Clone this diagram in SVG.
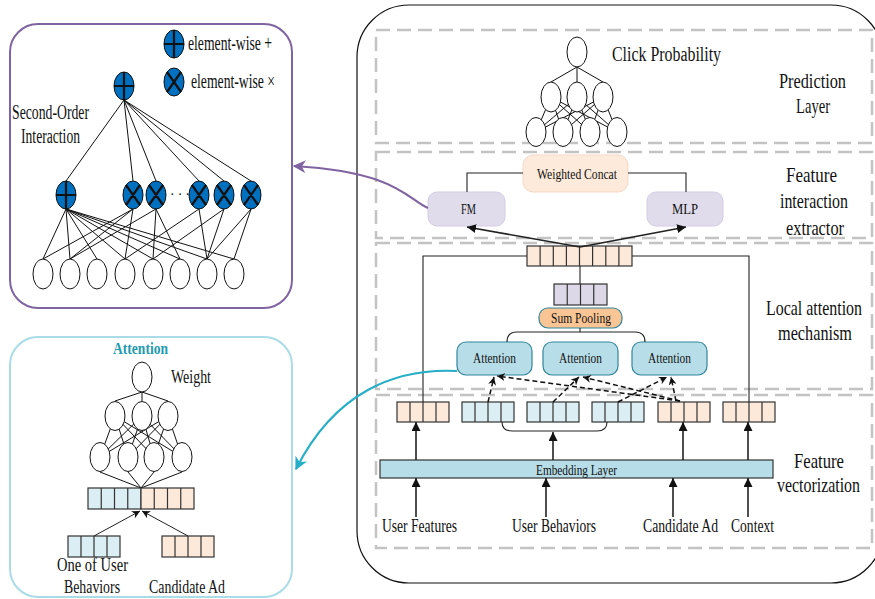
<svg xmlns="http://www.w3.org/2000/svg" width="875" height="599" viewBox="0 0 875 599">
<style>
text{font-family:"Liberation Serif","Times New Roman",serif;fill:#111}
.lbl{font-size:21px}
.sm{font-size:15px}
.net{stroke:#111;stroke-width:1;fill:none}
.wn{fill:#fff;stroke:#111;stroke-width:1}
.bn{fill:#0070C0;stroke:#111;stroke-width:1}
.sym{stroke:#111;stroke-width:2.2;fill:none}
.sec{fill:none;stroke:#C3C3C3;stroke-width:2.5;stroke-dasharray:14 7}
.cell{stroke:#333;stroke-width:1.2}
.pe{fill:#FDE9D9}
.bl{fill:#DAEEF3}
.lv{fill:#DDD8E8}
.div{stroke:#333;stroke-width:1.2;fill:none}
.ar{stroke:#222;stroke-width:1.6;fill:none;marker-end:url(#ah)}
.art{stroke:#222;stroke-width:1;fill:none;marker-end:url(#ahs)}
.da{stroke:#111;stroke-width:1.5;fill:none;stroke-dasharray:5 3;marker-end:url(#ahs)}
.att{fill:#B7DEE8;stroke:#31859C;stroke-width:1.2}
.ln{stroke:#222;stroke-width:1.1;fill:none}
</style>
<defs>
<marker id="ah" viewBox="0 0 10 10" refX="10" refY="5" markerWidth="9" markerHeight="9" markerUnits="userSpaceOnUse" orient="auto"><path d="M0,0 L10,5 L0,10 z" fill="#111"/></marker>
<marker id="ahs" viewBox="0 0 10 10" refX="10" refY="5" markerWidth="8" markerHeight="8" markerUnits="userSpaceOnUse" orient="auto"><path d="M0,0 L10,5 L0,10 L3,5 z" fill="#111"/></marker>
<marker id="ahp" viewBox="0 0 10 10" refX="9" refY="5" markerWidth="13" markerHeight="13" markerUnits="userSpaceOnUse" orient="auto"><path d="M0,0 L10,5 L0,10 L3,5 z" fill="#8064A2"/></marker>
<marker id="aht" viewBox="0 0 10 10" refX="9" refY="5" markerWidth="13" markerHeight="13" markerUnits="userSpaceOnUse" orient="auto"><path d="M0,0 L10,5 L0,10 L3,5 z" fill="#25AEC6"/></marker>
</defs>

<!-- Panels -->
<g id="fm-panel">
<rect x="10" y="24" width="282" height="284" rx="28" fill="#fff" stroke="#8064A2" stroke-width="2"/>
</g>
<g id="attention-panel">
<rect x="10" y="337" width="282" height="260" rx="28" fill="#fff" stroke="#A9DCE7" stroke-width="2"/>
</g>
<g id="main-panel">
<rect x="357" y="5" width="526" height="578" rx="52" fill="#fff" stroke="#111" stroke-width="1.2"/>
</g>

<!-- Section boxes -->
<g id="sections">
<rect class="sec" x="376" y="30" width="496" height="113"/>
<rect class="sec" x="376" y="152" width="496" height="86"/>
<rect class="sec" x="376" y="243" width="496" height="146"/>
<rect class="sec" x="376" y="395" width="496" height="153"/>
</g>

<!-- FM detail network -->
<g id="fm-network">
<g class="net">
<path d="M124,100L66,181M124,100L133,181M124,100L156,181M124,100L199,181M124,100L224,181M124,100L251,181"/>
<path d="M66,209L43,259M66,209L70,259M66,209L97,259M66,209L125,259M66,209L153,259M66,209L180,259M66,209L207,259M66,209L234,259"/>
<path d="M133,209L43,259M133,209L70,259M133,209L125,259"/>
<path d="M156,209L70,259M156,209L153,259M156,209L180,259"/>
<path d="M199,209L125,259M199,209L207,259"/>
<path d="M224,209L153,259M224,209L207,259"/>
<path d="M251,209L207,259M251,209L234,259"/>
</g>
<g id="fm-top">
<ellipse class="bn" cx="124" cy="86" rx="10" ry="14"/>
<path class="sym" d="M124,72V100M114,86H134"/>
</g>
<g id="fm-sum">
<ellipse class="bn" cx="66" cy="195" rx="10" ry="14"/>
<path class="sym" d="M66,181V209M56,195H76"/>
</g>
<g id="fm-products">
<ellipse class="bn" cx="133" cy="195" rx="10" ry="14"/>
<ellipse class="bn" cx="156" cy="195" rx="10" ry="14"/>
<ellipse class="bn" cx="199" cy="195" rx="10" ry="14"/>
<ellipse class="bn" cx="224" cy="195" rx="10" ry="14"/>
<ellipse class="bn" cx="251" cy="195" rx="10" ry="14"/>
<path class="sym" d="M126,185L140,205M140,185L126,205M149,185L163,205M163,185L149,205M192,185L206,205M206,185L192,205M217,185L231,205M231,185L217,205M244,185L258,205M258,185L244,205"/>
<text x="170" y="199" style="font-size:14px" textLength="20" lengthAdjust="spacing">· · ·</text>
</g>
<g id="fm-inputs">
<ellipse class="wn" cx="43" cy="274" rx="10" ry="15"/>
<ellipse class="wn" cx="70" cy="274" rx="10" ry="15"/>
<ellipse class="wn" cx="97" cy="274" rx="10" ry="15"/>
<ellipse class="wn" cx="125" cy="274" rx="10" ry="15"/>
<ellipse class="wn" cx="153" cy="274" rx="10" ry="15"/>
<ellipse class="wn" cx="180" cy="274" rx="10" ry="15"/>
<ellipse class="wn" cx="207" cy="274" rx="10" ry="15"/>
<ellipse class="wn" cx="234" cy="274" rx="10" ry="15"/>
</g>
<g id="legend">
<ellipse class="bn" cx="174" cy="44" rx="10" ry="14"/>
<path class="sym" d="M174,30V58M164,44H184"/>
<text x="188" y="50" style="font-size:20px" textLength="84" lengthAdjust="spacingAndGlyphs">element-wise +</text>
<ellipse class="bn" cx="174" cy="82" rx="10" ry="14"/>
<path class="sym" d="M167,72L181,92M181,72L167,92"/>
<text x="191" y="88" style="font-size:20px" textLength="84" lengthAdjust="spacingAndGlyphs">element-wise ×</text>
</g>
<text x="12" y="119" style="font-size:20px" textLength="77" lengthAdjust="spacingAndGlyphs">Second-Order</text>
<text x="21" y="143" style="font-size:20px" textLength="59" lengthAdjust="spacingAndGlyphs">Interaction</text>
</g>

<!-- Attention detail network -->
<g id="att-network">
<text x="113" y="354" style="font-size:16px;font-weight:bold;fill:#1E9BB0" textLength="55" lengthAdjust="spacingAndGlyphs">Attention</text>
<text x="171" y="383" style="font-size:19px" textLength="40" lengthAdjust="spacingAndGlyphs">Weight</text>
<g class="net">
<path d="M142,392L115,401M142,392L142,401M142,392L168,401"/>
<path d="M115,416L100,457M115,416L128,457M115,416L154,457M115,416L182,457M142,416L100,457M142,416L128,457M142,416L154,457M142,416L182,457M168,416L100,457M168,416L128,457M168,416L154,457M168,416L182,457"/>
<path d="M100,472L141,488M128,472L141,488M154,472L141,488M182,472L141,488"/>
</g>
<ellipse class="wn" cx="142" cy="377" rx="10" ry="15"/>
<ellipse class="wn" cx="115" cy="416" rx="10" ry="14.5"/>
<ellipse class="wn" cx="142" cy="416" rx="10" ry="14.5"/>
<ellipse class="wn" cx="168" cy="416" rx="10" ry="14.5"/>
<ellipse class="wn" cx="100" cy="457" rx="10" ry="14.5"/>
<ellipse class="wn" cx="128" cy="457" rx="10" ry="14.5"/>
<ellipse class="wn" cx="154" cy="457" rx="10" ry="14.5"/>
<ellipse class="wn" cx="182" cy="457" rx="10" ry="14.5"/>
<g id="att-concat">
<rect class="cell bl" x="88" y="488" width="53" height="21"/>
<rect class="cell pe" x="141" y="488" width="53" height="21"/>
<path class="div" d="M101.25,488V509M114.5,488V509M127.75,488V509M154.25,488V509M167.5,488V509M180.75,488V509"/>
</g>
<g id="att-behavior">
<rect class="cell bl" x="68" y="536" width="52" height="21"/>
<path class="div" d="M81,536V557M94,536V557M107,536V557"/>
</g>
<g id="att-ad">
<rect class="cell pe" x="162" y="536" width="52" height="21"/>
<path class="div" d="M175,536V557M188,536V557M201,536V557"/>
</g>
<path class="art" d="M94,536L140,511"/>
<path class="art" d="M188,536L142,511"/>
<text x="57" y="571" style="font-size:18px" textLength="71" lengthAdjust="spacingAndGlyphs">One of User</text>
<text x="64" y="593" style="font-size:18px" textLength="56" lengthAdjust="spacingAndGlyphs">Behaviors</text>
<text x="149" y="593" style="font-size:18px" textLength="76" lengthAdjust="spacingAndGlyphs">Candidate Ad</text>
</g>

<!-- Prediction layer -->
<g id="prediction">
<g class="net">
<path d="M577,67L551,82M577,67L577,82M577,67L603,82"/>
<path d="M551,97L536,132M551,97L563,132M551,97L590,132M551,97L617,132M577,97L536,132M577,97L563,132M577,97L590,132M577,97L617,132M603,97L536,132M603,97L563,132M603,97L590,132M603,97L617,132"/>
</g>
<ellipse class="wn" cx="577" cy="52" rx="10" ry="15"/>
<ellipse class="wn" cx="551" cy="97" rx="10" ry="15"/>
<ellipse class="wn" cx="577" cy="97" rx="10" ry="15"/>
<ellipse class="wn" cx="603" cy="97" rx="10" ry="15"/>
<ellipse class="wn" cx="536" cy="132" rx="10" ry="14.5"/>
<ellipse class="wn" cx="563" cy="132" rx="10" ry="14.5"/>
<ellipse class="wn" cx="590" cy="132" rx="10" ry="14.5"/>
<ellipse class="wn" cx="617" cy="132" rx="10" ry="14.5"/>
<text x="612" y="61" style="font-size:20px" textLength="109" lengthAdjust="spacingAndGlyphs">Click Probability</text>
<text class="lbl" x="779" y="88" textLength="67" lengthAdjust="spacingAndGlyphs">Prediction</text>
<text class="lbl" x="796" y="113" textLength="34" lengthAdjust="spacingAndGlyphs">Layer</text>
</g>

<!-- Feature interaction extractor -->
<g id="weighted-concat">
<rect x="523" y="155" width="105" height="37" rx="10" fill="#FDEADA" stroke="#F5D9C6" stroke-width="1"/>
<text class="sm" x="537" y="179" textLength="80" lengthAdjust="spacingAndGlyphs">Weighted Concat</text>
</g>
<g id="fm-box">
<rect x="428" y="192" width="77" height="34" rx="9" fill="#E0DCEB" stroke="#D2CCE2" stroke-width="1"/>
<text class="sm" x="461" y="214" textLength="15" lengthAdjust="spacingAndGlyphs">FM</text>
</g>
<g id="mlp-box">
<rect x="647" y="192" width="76" height="34" rx="9" fill="#E0DCEB" stroke="#D2CCE2" stroke-width="1"/>
<text class="sm" x="672" y="214" textLength="26" lengthAdjust="spacingAndGlyphs">MLP</text>
</g>
<text class="lbl" x="786" y="182" textLength="51" lengthAdjust="spacingAndGlyphs">Feature</text>
<text class="lbl" x="780" y="208" textLength="68" lengthAdjust="spacingAndGlyphs">interaction</text>
<text class="lbl" x="786" y="235" textLength="58" lengthAdjust="spacingAndGlyphs">extractor</text>

<!-- Local attention -->
<g id="concat-vector">
<rect class="cell pe" x="527" y="246" width="105" height="20"/>
<path class="div" d="M540.1,246V266M553.3,246V266M566.4,246V266M579.5,246V266M592.6,246V266M605.8,246V266M618.9,246V266"/>
</g>
<g id="pooled-vector">
<rect class="cell lv" x="554" y="284" width="53" height="21"/>
<path class="div" d="M567.25,284V305M580.5,284V305M593.75,284V305"/>
</g>
<g id="sum-pooling">
<rect x="539" y="308" width="83" height="20" rx="9" fill="#FAC595" stroke="#31859C" stroke-width="1.2"/>
<text class="sm" x="551" y="323" textLength="60" lengthAdjust="spacingAndGlyphs">Sum Pooling</text>
</g>
<g id="attention-1">
<rect class="att" x="457" y="342" width="75" height="33" rx="9"/>
<text class="sm" x="473" y="363" textLength="43" lengthAdjust="spacingAndGlyphs">Attention</text>
</g>
<g id="attention-2">
<rect class="att" x="543" y="342" width="75" height="33" rx="9"/>
<text class="sm" x="559" y="363" textLength="43" lengthAdjust="spacingAndGlyphs">Attention</text>
</g>
<g id="attention-3">
<rect class="att" x="632" y="342" width="75" height="33" rx="9"/>
<text class="sm" x="648" y="363" textLength="43" lengthAdjust="spacingAndGlyphs">Attention</text>
</g>
<text class="lbl" x="766" y="315" textLength="96" lengthAdjust="spacingAndGlyphs">Local attention</text>
<text class="lbl" x="778" y="340" textLength="74" lengthAdjust="spacingAndGlyphs">mechanism</text>

<!-- Feature vectorization -->
<g id="emb-user">
<rect class="cell pe" x="397" y="402" width="52" height="20"/>
<path class="div" d="M410,402V422M423,402V422M436,402V422"/>
</g>
<g id="emb-beh1">
<rect class="cell bl" x="462" y="402" width="52" height="20"/>
<path class="div" d="M475,402V422M488,402V422M501,402V422"/>
</g>
<g id="emb-beh2">
<rect class="cell bl" x="527" y="402" width="52" height="20"/>
<path class="div" d="M540,402V422M553,402V422M566,402V422"/>
</g>
<g id="emb-beh3">
<rect class="cell bl" x="592" y="402" width="52" height="20"/>
<path class="div" d="M605,402V422M618,402V422M631,402V422"/>
</g>
<g id="emb-ad">
<rect class="cell pe" x="658" y="402" width="52" height="20"/>
<path class="div" d="M671,402V422M684,402V422M697,402V422"/>
</g>
<g id="emb-context">
<rect class="cell pe" x="723" y="402" width="52" height="20"/>
<path class="div" d="M736,402V422M749,402V422M762,402V422"/>
</g>
<g id="embedding-layer">
<rect x="380" y="460" width="393" height="18" fill="#B7DEE8" stroke="#333" stroke-width="1.2"/>
<text x="536" y="475" style="font-size:14px" textLength="81" lengthAdjust="spacingAndGlyphs">Embedding Layer</text>
</g>
<text class="lbl" x="794" y="468" textLength="50" lengthAdjust="spacingAndGlyphs">Feature</text>
<text class="lbl" x="777" y="492" textLength="83" lengthAdjust="spacingAndGlyphs">vectorization</text>
<text x="382" y="532" style="font-size:18px" textLength="75" lengthAdjust="spacingAndGlyphs">User Features</text>
<text x="512" y="532" style="font-size:18px" textLength="84" lengthAdjust="spacingAndGlyphs">User Behaviors</text>
<text x="643" y="532" style="font-size:18px" textLength="75" lengthAdjust="spacingAndGlyphs">Candidate Ad</text>
<text x="731" y="532" style="font-size:18px" textLength="43" lengthAdjust="spacingAndGlyphs">Context</text>

<!-- Connectors -->
<g id="connectors">
<path class="ln" d="M523,173H467V192M628,173H686V192"/>
<path class="ar" d="M580,247L467,227"/>
<path class="ar" d="M580,247L686,227"/>
<path class="ln" d="M527,256H423V402M632,256H749V402"/>
<path class="ln" d="M580,266V284"/>
<path class="ln" d="M580,328V332M507,342Q507,332 517,332H635Q645,332 645,342"/>
<path class="da" d="M488,402L494,377"/>
<path class="da" d="M680,401L497,376"/>
<path class="da" d="M553,402L579,377"/>
<path class="da" d="M680,401L583,377"/>
<path class="da" d="M618,402L667,377"/>
<path class="da" d="M676,401L671,377"/>
<path class="ln" d="M502,422Q502,431 512,431H597Q607,431 607,422"/>
<path class="ar" d="M553,460V432"/>
<path class="ar" d="M416,460V422"/>
<path class="ar" d="M683,460V422"/>
<path class="ar" d="M748,460V422"/>
<path class="ar" d="M416,517V478"/>
<path class="ar" d="M546,517V478"/>
<path class="ar" d="M673,517V478"/>
<path class="ar" d="M748,517V478"/>
<path d="M428,208C408,200 398,172 294,166" fill="none" stroke="#8064A2" stroke-width="2" marker-end="url(#ahp)"/>
<path d="M457,371C395,368 335,392 296,469" fill="none" stroke="#25AEC6" stroke-width="2" marker-end="url(#aht)"/>
</g>
</svg>
